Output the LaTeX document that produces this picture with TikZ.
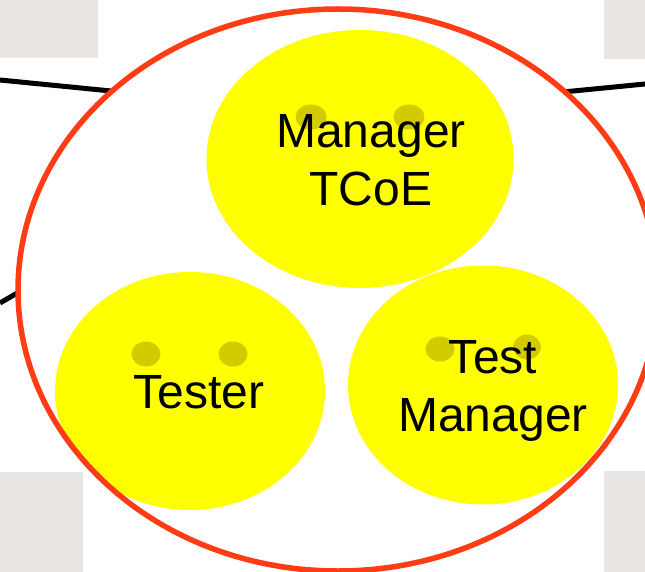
\documentclass[tikz,border=0pt]{standalone}
\usepackage{fontspec}
\setmainfont{Liberation Sans}
\usetikzlibrary{shapes.geometric}
\definecolor{boxgray}{HTML}{E9E6E3}
\definecolor{ringred}{HTML}{FF3C14}
\definecolor{faceyellow}{HTML}{FFFF00}
\definecolor{eyeolive}{HTML}{D2CB00}
\tikzset{
  graybox/.style={fill=boxgray, draw=none},
  link/.style={draw=black, line width=5pt},
  face/.style={ellipse, fill=faceyellow, draw=none, inner sep=0pt},
  eye/.style={ellipse, fill=eyeolive, draw=none, inner sep=0pt, minimum width=31pt, minimum height=25pt},
  ring/.style={ellipse, draw=ringred, line width=5.5pt, inner sep=0pt, minimum width=640pt, minimum height=562pt},
  label/.style={font=\fontsize{48}{58}\selectfont, align=center, text=black, inner sep=0pt}
}
\begin{document}
\begin{tikzpicture}[x=1pt,y=-1pt]
\useasboundingbox (0,0) rectangle (645,572);
\fill[white] (0,0) rectangle (645,572);
% gray corner boxes
\fill[graybox] (0,0) rectangle (98,58);
\fill[graybox] (604,0) rectangle (645,59);
\fill[graybox] (0,472) rectangle (83,572);
\fill[graybox] (604,471) rectangle (645,572);
% coordinates
\coordinate (tl) at (0,80);
\coordinate (tlr) at (111,91);
\coordinate (tr) at (645,84);
\coordinate (trl) at (563,92);
\coordinate (ml) at (0,303);
\coordinate (mlr) at (19,292);
\draw[link] (tl) -- (tlr);
\draw[link] (trl) -- (tr);
\draw[link] (ml) -- (mlr);
% faces
\node[face, minimum width=307pt, minimum height=258pt] (mgr) at (360,159) {};
\node[face, minimum width=270pt, minimum height=238pt] (tester) at (190,391) {};
\node[face, minimum width=270pt, minimum height=239pt] (tm) at (483,385) {};
% eyes
\node[eye] (mgrL) at (311,117) {};
\node[eye] (mgrR) at (409,117) {};
\node[eye, minimum width=29pt] (tesL) at (146,354) {};
\node[eye, minimum width=29pt] (tesR) at (233,354) {};
\node[eye, minimum width=29pt] (tmL) at (440,349) {};
\node[eye, minimum width=28pt] (tmR) at (527,347) {};
% ring
\node[ring] (big) at (338,290) {};
% labels
\node[label] (mgrT) at (371,160) {Manager\\TCoE};
\node[label] (tesT) at (199,392) {Tester};
\node[label] (tmT) at (493,391) {Test\\Manager};
\end{tikzpicture}
\end{document}
